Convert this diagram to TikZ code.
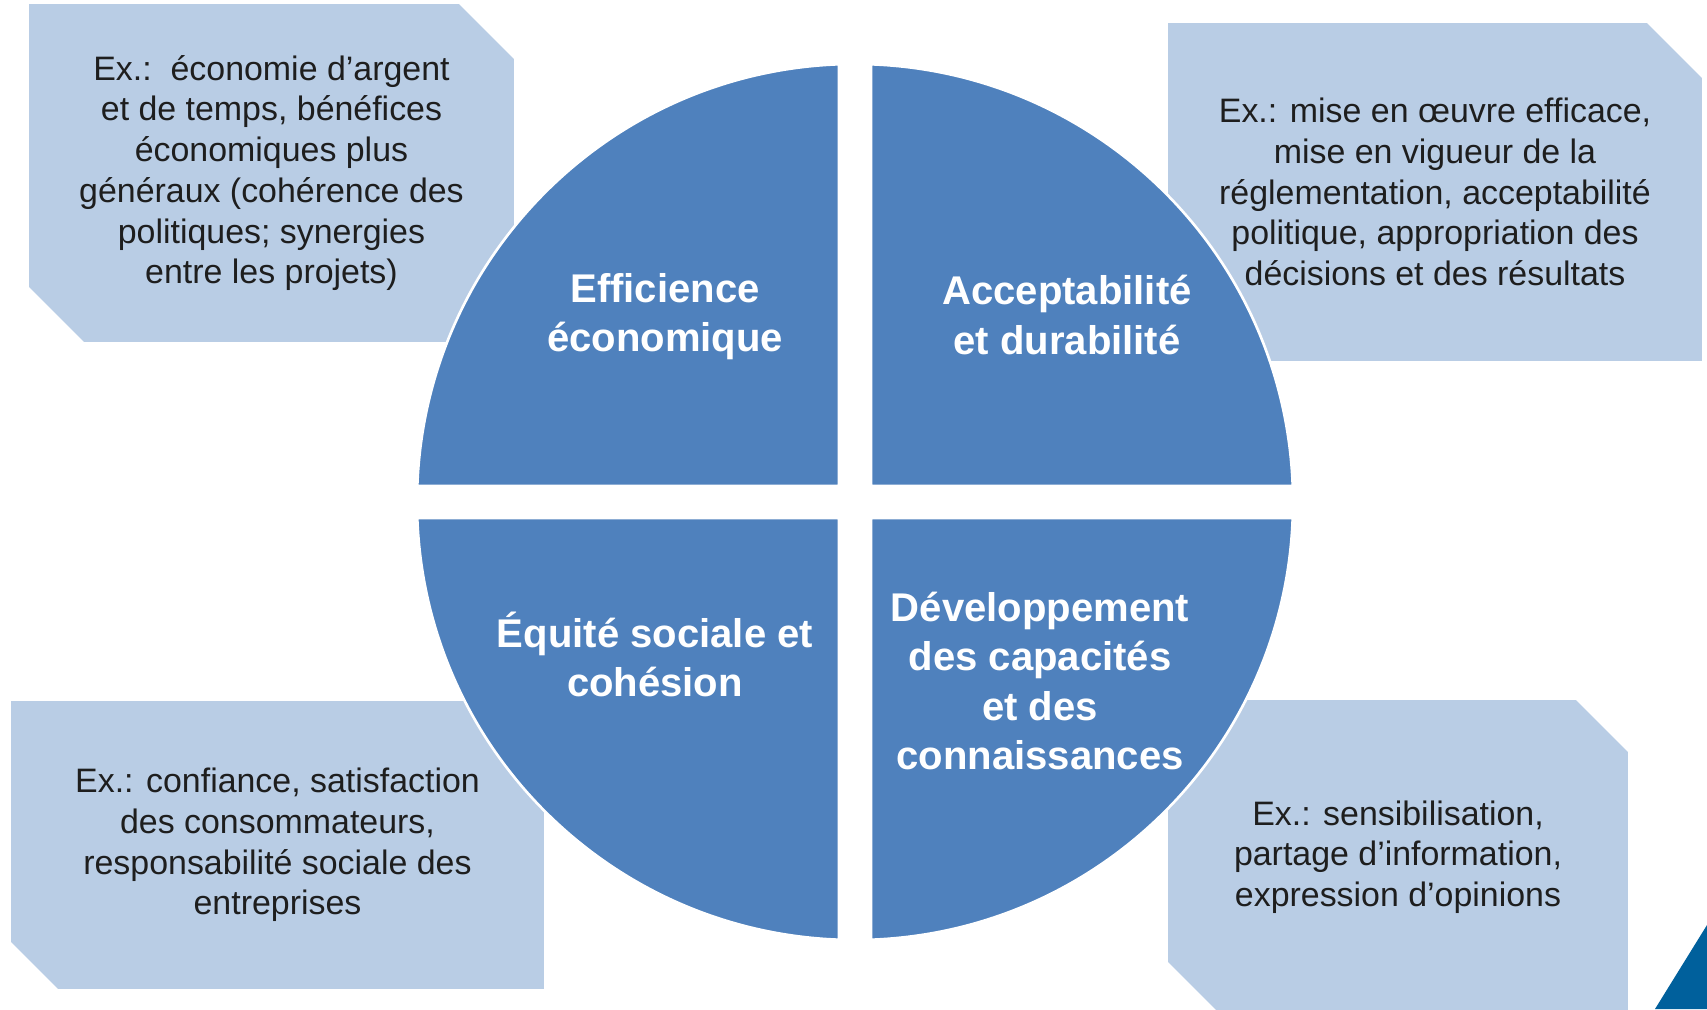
\documentclass[tikz,border=0pt]{standalone}
\usepackage{fontspec}
\setmainfont{Liberation Sans}
\usepackage{xcolor}
\usepackage{tikz}
\usetikzlibrary{shapes.misc}

\definecolor{boxblue}{HTML}{B9CDE5}
\definecolor{quadblue}{HTML}{4F81BD}
\definecolor{cornerblue}{HTML}{00609C}
\definecolor{textgray}{HTML}{1E1E1E}

\begin{document}
\begin{tikzpicture}[x=0.02cm,y=0.02cm]
				\tikzstyle{common} = [align=center, inner sep=0pt]
				\tikzstyle{example} = [chamfered rectangle, chamfered rectangle corners={north east, south west}, common, fill=boxblue, text=textgray, font=\fontsize{19.3}{23.2}\selectfont]
				\tikzstyle{quadrant} = [fill=quadblue, draw=white, line width=1.5pt]
				\tikzstyle{label} = [common, text=white, font=\bfseries\fontsize{22.8}{27.9}\selectfont]
				\useasboundingbox (0,0) rectangle (1707,1009);
				\fill[white] (0,0) rectangle (1707,1009);
				% boxes behind the circle
				\node[example, minimum width=9.7cm, minimum height=6.76cm, chamfered rectangle sep=0.55cm] (exeff) at (271.5,836) {Ex.:\ \ économie d’argent\\et de temps, bénéfices\\économiques plus\\généraux (cohérence des\\politiques; synergies\\entre les projets)};
				\node[example, minimum width=10.68cm, minimum height=6.76cm, chamfered rectangle sep=0.55cm] (exacc) at (1435,817) {Ex.: mise en œuvre efficace,\\mise en vigueur de la\\réglementation, acceptabilité\\politique, appropriation des\\décisions et des résultats};
				\node[example, minimum width=10.66cm, minimum height=5.76cm, chamfered rectangle sep=0.47cm] (exequ) at (277.5,164) {Ex.: confiance, satisfaction\\des consommateurs,\\responsabilité sociale des\\entreprises};
				\node[example, minimum width=9.2cm, minimum height=6.28cm, chamfered rectangle sep=0.52cm] (exdev) at (1398,152) {Ex.: sensibilisation,\\partage d’information,\\expression d’opinions};
				% the four quarters
				\draw[quadrant] (871,523) -- (871,944.71) arc[start angle=87.91, end angle=2.09, radius=438] -- cycle;
				\draw[quadrant] (839,523) -- (417.29,523) arc[start angle=177.91, end angle=92.09, radius=438] -- cycle;
				\draw[quadrant] (839,491) -- (839,69.29) arc[start angle=267.91, end angle=182.09, radius=438] -- cycle;
				\draw[quadrant] (871,491) -- (1292.71,491) arc[start angle=-2.09, end angle=-87.91, radius=438] -- cycle;
				\node[label] (eff) at (665,692) {Efficience\\économique};
				\node[label] (acc) at (1067,694) {Acceptabilité\\et durabilité};
				\node[label] (equ) at (655,355) {Équité sociale et\\cohésion};
				\node[label] (dev) at (1040,328) {Développement\\des capacités\\et des\\connaissances};
				% corner mark
				\fill[cornerblue] (1707,84) -- (1655,0) -- (1707,0) -- cycle;
\end{tikzpicture}
\end{document}
